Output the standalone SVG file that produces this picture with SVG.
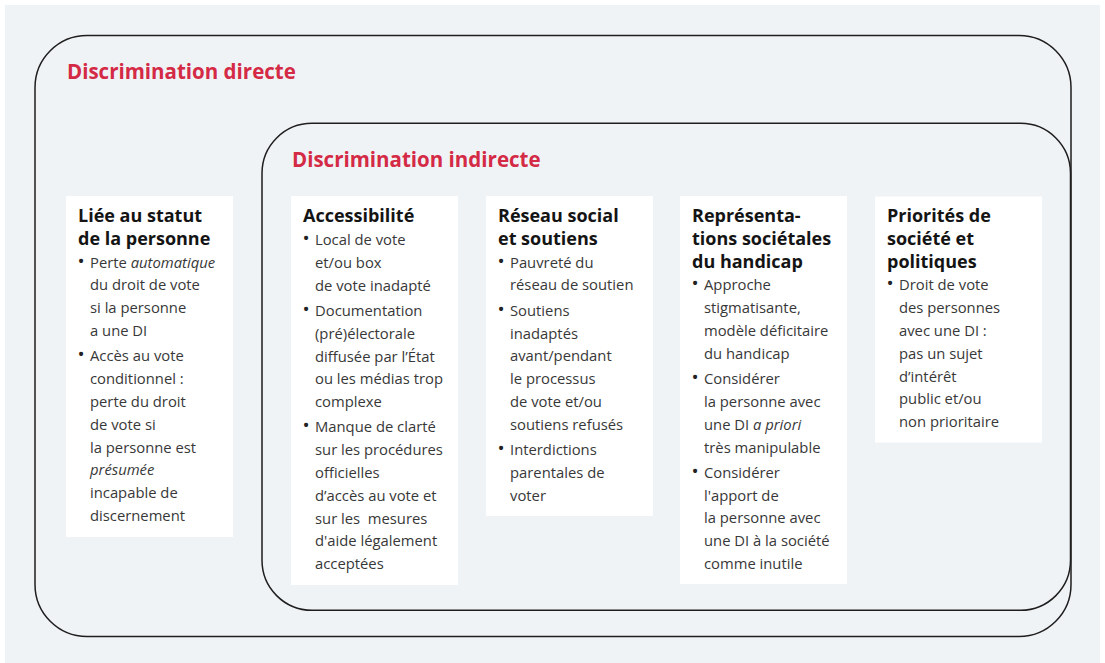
<svg xmlns="http://www.w3.org/2000/svg" width="1105" height="663" viewBox="0 0 1105 663">
<style>
.frame{fill:none;stroke:#1e1e1e;stroke-width:1.5}
.box{fill:#ffffff}
.h{font-family:"Open Sans","Liberation Sans",sans-serif;font-weight:700;fill:#d42a45;font-size:20.5px}
.t{font-family:"Open Sans","Liberation Sans",sans-serif;font-weight:700;fill:#141414;font-size:18px}
.b{font-family:"Open Sans","Liberation Sans",sans-serif;font-weight:400;fill:#383838;font-size:14.8px}
.d{font-size:19px;fill:#222}
</style>
<rect x="0" y="0" width="1105" height="663" fill="#ffffff"/>
<rect x="5" y="5" width="1095" height="658" fill="#f0f3f6"/>
<g id="direct">
<rect class="frame" x="35" y="35.5" width="1036" height="601" rx="52" ry="52"/>
<text class="h" x="67" y="79.3">Discrimination directe</text>
</g>
<g id="indirect">
<rect class="frame" x="262" y="123.3" width="808.5" height="487" rx="50" ry="50"/>
<text class="h" x="292" y="167.3">Discrimination indirecte</text>
</g>
<g id="connectors"></g>
<g id="statut">
<rect class="box" x="66" y="196" width="167" height="341"/>
<text class="t" x="78" y="222">Liée au statut</text>
<text class="t" x="78" y="244.8">de la personne</text>
<text class="b"><tspan class="d" x="77.5" y="267.6">•</tspan><tspan x="90" y="267.6">Perte <tspan font-style="italic">automatique</tspan></tspan><tspan x="90" y="290.4">du droit de vote</tspan><tspan x="90" y="313.2">si la personne</tspan><tspan x="90" y="336">a une DI</tspan><tspan class="d" x="77.5" y="361.3">•</tspan><tspan x="90" y="361.3">Accès au vote</tspan><tspan x="90" y="384.1">conditionnel :</tspan><tspan x="90" y="406.9">perte du droit</tspan><tspan x="90" y="429.7">de vote si</tspan><tspan x="90" y="452.5">la personne est</tspan><tspan x="90" y="475.3" font-style="italic">présumée</tspan><tspan x="90" y="498.1">incapable de</tspan><tspan x="90" y="520.9">discernement</tspan></text>
</g>
<g id="accessibilite">
<rect class="box" x="291" y="196" width="167" height="389"/>
<text class="t" x="303" y="222">Accessibilité</text>
<text class="b"><tspan class="d" x="302.5" y="245">•</tspan><tspan x="315" y="245">Local de vote</tspan><tspan x="315" y="267.8">et/ou box</tspan><tspan x="315" y="290.6">de vote inadapté</tspan><tspan class="d" x="302.5" y="315.9">•</tspan><tspan x="315" y="315.9">Documentation</tspan><tspan x="315" y="338.7">(pré)électorale</tspan><tspan x="315" y="361.5">diffusée par l’État</tspan><tspan x="315" y="384.3">ou les médias trop</tspan><tspan x="315" y="407.1">complexe</tspan><tspan class="d" x="302.5" y="432.4">•</tspan><tspan x="315" y="432.4">Manque de clarté</tspan><tspan x="315" y="455.2">sur les procédures</tspan><tspan x="315" y="478">officielles</tspan><tspan x="315" y="500.8">d’accès au vote et</tspan><tspan x="315" y="523.6" xml:space="preserve">sur les  mesures</tspan><tspan x="315" y="546.4">d'aide légalement</tspan><tspan x="315" y="569.2">acceptées</tspan></text>
</g>
<g id="reseau">
<rect class="box" x="486" y="196" width="167" height="320"/>
<text class="t" x="498" y="222">Réseau social</text>
<text class="t" x="498" y="244.8">et soutiens</text>
<text class="b"><tspan class="d" x="497.5" y="267.6">•</tspan><tspan x="510" y="267.6">Pauvreté du</tspan><tspan x="510" y="290.4">réseau de soutien</tspan><tspan class="d" x="497.5" y="315.7">•</tspan><tspan x="510" y="315.7">Soutiens</tspan><tspan x="510" y="338.5">inadaptés</tspan><tspan x="510" y="361.3">avant/pendant</tspan><tspan x="510" y="384.1">le processus</tspan><tspan x="510" y="406.9">de vote et/ou</tspan><tspan x="510" y="429.7">soutiens refusés</tspan><tspan class="d" x="497.5" y="455">•</tspan><tspan x="510" y="455">Interdictions</tspan><tspan x="510" y="477.8">parentales de</tspan><tspan x="510" y="500.6">voter</tspan></text>
</g>
<g id="representations">
<rect class="box" x="680" y="196" width="167" height="388"/>
<text class="t" x="692" y="222">Représenta-</text>
<text class="t" x="692" y="244.8">tions sociétales</text>
<text class="t" x="692" y="267.6">du handicap</text>
<text class="b"><tspan class="d" x="691.5" y="290.4">•</tspan><tspan x="704" y="290.4">Approche</tspan><tspan x="704" y="313.2">stigmatisante,</tspan><tspan x="704" y="336">modèle déficitaire</tspan><tspan x="704" y="358.8">du handicap</tspan><tspan class="d" x="691.5" y="384.1">•</tspan><tspan x="704" y="384.1">Considérer</tspan><tspan x="704" y="406.9">la personne avec</tspan><tspan x="704" y="429.7">une DI <tspan font-style="italic">a priori</tspan></tspan><tspan x="704" y="452.5">très manipulable</tspan><tspan class="d" x="691.5" y="477.8">•</tspan><tspan x="704" y="477.8">Considérer</tspan><tspan x="704" y="500.6">l'apport de</tspan><tspan x="704" y="523.4">la personne avec</tspan><tspan x="704" y="546.2">une DI à la société</tspan><tspan x="704" y="569">comme inutile</tspan></text>
</g>
<g id="priorites">
<rect class="box" x="875" y="196.5" width="167" height="246"/>
<text class="t" x="887" y="222">Priorités de</text>
<text class="t" x="887" y="244.8">société et</text>
<text class="t" x="887" y="267.6">politiques</text>
<text class="b"><tspan class="d" x="886.5" y="290.4">•</tspan><tspan x="899" y="290.4">Droit de vote</tspan><tspan x="899" y="313.2">des personnes</tspan><tspan x="899" y="336">avec une DI :</tspan><tspan x="899" y="358.8">pas un sujet</tspan><tspan x="899" y="381.6">d’intérêt</tspan><tspan x="899" y="404.4">public et/ou</tspan><tspan x="899" y="427.2">non prioritaire</tspan></text>
</g>
</svg>
